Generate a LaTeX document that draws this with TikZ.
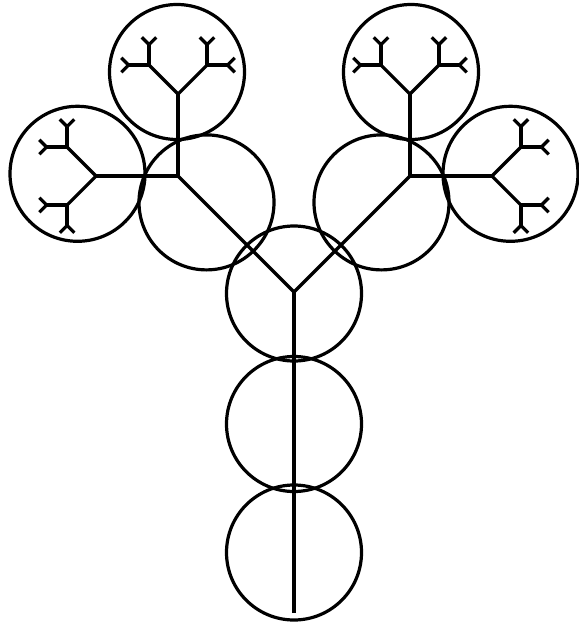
\documentclass[tikz,border=0pt]{standalone}
\usepackage{tikz}
\newcommand\treebranch[5]{%
  \ifnum#5>0\relax
    \pgfmathsetmacro\tbx{#1+#4*cos(#3)}%
    \pgfmathsetmacro\tby{#2+#4*sin(#3)}%
    \draw[limb] (#1,#2) -- (\tbx,\tby);
    \pgfmathsetmacro\tbl{#4/2}%
    \pgfmathtruncatemacro\tbd{#5-1}%
    \pgfmathsetmacro\tba{#3+45}%
    \pgfmathsetmacro\tbb{#3-45}%
    \edef\tbnext{\noexpand\treebranch{\tbx}{\tby}{\tba}{\tbl}{\tbd}\noexpand\treebranch{\tbx}{\tby}{\tbb}{\tbl}{\tbd}}%
    \tbnext
  \fi}
\begin{document}
\begin{tikzpicture}[x=1pt,y=-1pt,
  limb/.style={line width=3.2pt},
  bubble/.style={draw,circle,line width=3.2pt,minimum size=135pt,inner sep=0pt}]
\useasboundingbox (0,0) rectangle (578,623);
% circles
\node[bubble] (c1) at (294,552.5) {};
\node[bubble] (c2) at (294,424) {};
\node[bubble] (c3) at (294,293.5) {};
\node[bubble] (c4) at (206.5,202.4) {};
\node[bubble] (c5) at (381.5,202.4) {};
\node[bubble] (c6) at (177,72) {};
\node[bubble] (c7) at (411,72) {};
\node[bubble] (c8) at (77.5,173.8) {};
\node[bubble] (c9) at (510.5,173.8) {};
% tree
\coordinate (base) at (294,613);
\coordinate (fork) at (294,292);
\draw[limb] (base) -- (fork);
\treebranch{294}{292}{-135}{164}{5}
\treebranch{294}{292}{-45}{164}{5}
\end{tikzpicture}
\end{document}
